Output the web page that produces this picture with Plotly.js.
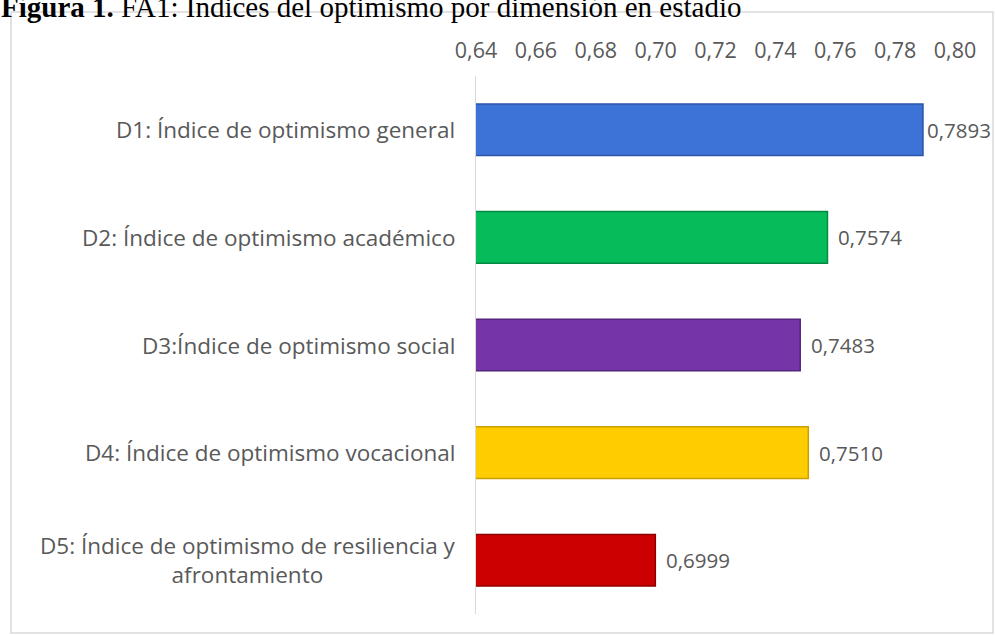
<!DOCTYPE html>
<html>
<head>
<meta charset="utf-8">
<script src="https://cdn.plot.ly/plotly-3.0.1.min.js"></script>
<style>html,body{margin:0;padding:0;background:#fff;}#chart{width:995px;height:635px;}</style>
</head>
<body>
<div id="chart"></div>
<script>
const categories = [
  "D1: Índice de optimismo general",
  "D2: Índice de optimismo académico",
  "D3:Índice de optimismo social",
  "D4: Índice de optimismo vocacional",
  "D5: Índice de optimismo de resiliencia y<br>afrontamiento"
];
const values = [0.7893, 0.7574, 0.7483, 0.7510, 0.6999];
const barColors = ["#3D72D6", "#05BB5A", "#7535A8", "#FFCC00", "#CC0000"];
const edgeColors = ["#2A55A8", "#048A42", "#55247D", "#C9A000", "#8E0000"];
const tickVals = [0.64, 0.66, 0.68, 0.70, 0.72, 0.74, 0.76, 0.78, 0.80];
const titleText = "<b>Figura 1.</b> FA1: Índices del optimismo por dimensión en estadio";

const L = 476, R = 955, T = 76, B = 614, W = 995, H = 635;
const px = x => (x - L) / (R - L);
const py = y => (B - y) / (B - T);

const grey = "#595959";
const font = {family: "Open Sans, Liberation Sans, sans-serif", size: 22.5, color: grey};
const tickFont = {family: "Open Sans, Liberation Sans, sans-serif", size: 21.5, color: grey};
const valFont = {family: "Open Sans, Liberation Sans, sans-serif", size: 20.5, color: grey};

const trace = {
  type: "bar",
  orientation: "h",
  x: values,
  y: categories,
  marker: {color: barColors, line: {color: edgeColors, width: 1.5}},
  hoverinfo: "none",
  cliponaxis: false
};

const annotations = [];
categories.forEach((c, i) => {
  annotations.push({
    x: px(456), xref: "paper", y: c, yref: "y",
    text: c, showarrow: false, xanchor: "right", align: "center",
    font: font, borderpad: 0
  });
  annotations.push({
    x: values[i], xref: "x", y: c, yref: "y",
    text: values[i].toFixed(4).replace(".", ","), showarrow: false,
    xanchor: "left", xshift: i === 0 ? 3 : 10, font: valFont, borderpad: 0
  });
});
annotations.push({
  x: px(0), xref: "paper", y: py(24), yref: "paper",
  text: titleText, showarrow: false, xanchor: "left", yanchor: "bottom",
  font: {family: "Liberation Serif, Times New Roman, serif", size: 29, color: "#000"},
  borderpad: 0
});

const layout = {
  width: W, height: H,
  margin: {l: L, r: W - R, t: T, b: H - B, pad: 0},
  paper_bgcolor: "#fff", plot_bgcolor: "#fff",
  showlegend: false,
  bargap: 0.52,
  separators: ",.",
  xaxis: {
    range: [0.64, 0.80], side: "top", tickvals: tickVals, tickformat: ".2f",
    showgrid: false, zeroline: false, showline: false, ticks: "",
    tickfont: tickFont, ticklabelstandoff: 13, fixedrange: true
  },
  yaxis: {
    autorange: "reversed", showticklabels: false, showgrid: false,
    zeroline: false, showline: true, linecolor: "#d9d9d9", linewidth: 1.5,
    ticks: "", fixedrange: true
  },
  annotations: annotations,
  shapes: [{
    type: "rect", xref: "paper", yref: "paper",
    x0: px(11), x1: px(993), y0: py(633), y1: py(12),
    line: {color: "#d9d9d9", width: 1.5}, fillcolor: "rgba(0,0,0,0)"
  }]
};

Plotly.newPlot("chart", [trace], layout, {displayModeBar: false, staticPlot: true});
</script>
</body>
</html>
